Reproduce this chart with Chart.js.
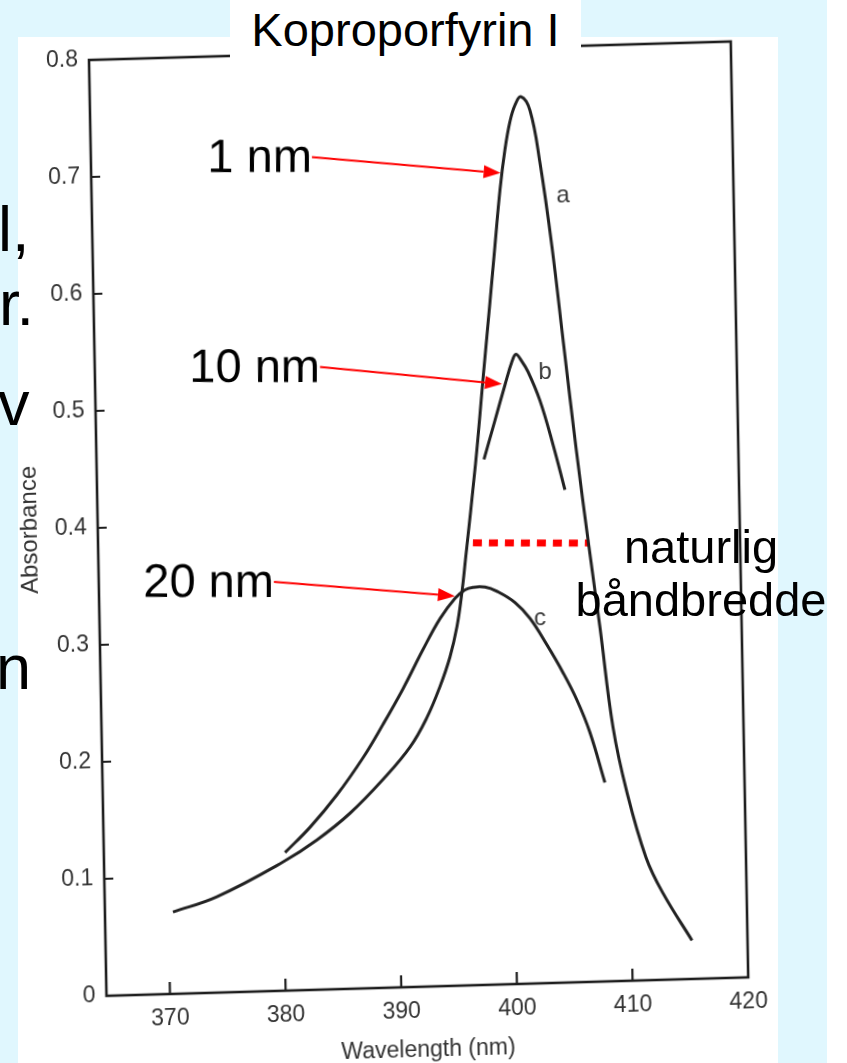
<!DOCTYPE html>
<html>
<head>
<meta charset="utf-8">
<script src="https://cdn.jsdelivr.net/npm/chart.js@4/dist/chart.umd.min.js"></script>
<style>
html,body{margin:0;padding:0;width:847px;height:1063px;overflow:hidden;background:#E0F7FE;font-family:"Liberation Sans",Arial,sans-serif;}
#panel{position:absolute;left:18px;top:37px;width:760px;height:1026px;background:#fff;}
#strip{position:absolute;left:827px;top:0;width:20px;height:1063px;background:#fff;}
#wrap{position:absolute;left:0;top:0;width:847px;height:1090px;transform-origin:0 0;transform:matrix(0.99959,-0.02879,0.018674,0.99983,-1.08,2.57);}
#titlebox{position:absolute;left:230px;top:0;width:351px;height:62px;background:#fff;}
.t{position:absolute;color:#000;white-space:nowrap;line-height:1;}
#title{left:230px;width:351px;text-align:center;top:6px;font-size:47px;}
.side{font-size:63px;}
.nat{left:560px;width:282px;text-align:center;font-size:47px;}
</style>
</head>
<body>
<div id="panel"></div>
<div id="strip"></div>
<div id="wrap"><canvas id="c" width="847" height="1090"></canvas></div>
<div id="titlebox"></div>
<div class="t" id="title">Koproporfyrin I</div>
<div class="t side" style="left:-2px;top:198px;">l,</div>
<div class="t side" style="left:-1px;top:272px;">r.</div>
<div class="t side" style="left:-2px;top:372px;">v</div>
<div class="t side" style="left:-4px;top:636px;">n</div>
<div class="t nat" style="top:523px;">naturlig</div>
<div class="t nat" style="top:576px;">båndbredde</div>
<script>
// ---- data (wavelength nm / absorbance) ----
const aWl  = [370.39,374.22,379.98,382.95,385.85,388.75,391.14,392.66,393.83,394.74,395.40,395.88,396.24,397.27,398.04,398.79,399.28,399.82,400.31,400.79,401.25,401.78,402.54,403.32,404.22,405.09,405.97,406.93,407.75,408.72,409.82,411.36,412.77,415.20];
const aAbs = [0.070,0.082,0.110,0.128,0.150,0.178,0.205,0.230,0.256,0.281,0.307,0.336,0.364,0.446,0.517,0.585,0.630,0.679,0.713,0.737,0.751,0.758,0.746,0.701,0.629,0.543,0.457,0.372,0.303,0.217,0.161,0.105,0.074,0.033];
const bWl  = [398.00,399.01,399.93,400.58,400.93,401.36,401.94,402.93,403.99,404.95];
const bAbs = [0.449,0.482,0.512,0.532,0.538,0.533,0.523,0.498,0.460,0.421];
const cWl  = [380.17,382.37,384.75,387.06,388.84,390.63,392.42,393.94,395.27,396.15,396.84,397.88,398.91,400.45,401.72,403.14,404.48,405.65,406.72,407.93];
const cAbs = [0.118,0.139,0.166,0.197,0.225,0.255,0.288,0.314,0.331,0.338,0.340,0.340,0.336,0.326,0.312,0.289,0.265,0.241,0.213,0.170];
const bandWl  = [396.91,406.95];
const bandAbs = [0.378,0.375];
const xTicks = [370,380,390,400,410,420];
const yTicks = [0,0.1,0.2,0.3,0.4,0.5,0.6,0.7,0.8];
const curveLabels = [{t:'a',x:405.25,y:0.672},{t:'b',x:403.41,y:0.522},{t:'c',x:402.58,y:0.312}];
const arrows = [
  {t:'1 nm',  sx:383.62, sy:0.7116, ex:399.90, ey:0.6933},
  {t:'10 nm', sx:383.98, sy:0.5320, ex:399.68, ey:0.5130},
  {t:'20 nm', sx:379.65, sy:0.3495, ex:395.27, ey:0.3330}
];

const FONT = "'Liberation Sans', Arial, Helvetica, sans-serif";
const SK = {a:0.99959, b:-0.02879, c:0.018674, d:0.99983, e:-1.08, f:2.57};
const det = SK.a*SK.d - SK.b*SK.c;
const INV = {a:SK.d/det, b:-SK.b/det, c:-SK.c/det, d:SK.a/det};
INV.e = -(INV.a*SK.e + INV.c*SK.f); INV.f = -(INV.b*SK.e + INV.d*SK.f);
function toScreen(px,py){ return [SK.a*px + SK.c*py + SK.e, SK.b*px + SK.d*py + SK.f]; }
const pts = (xs,ys)=>xs.map((x,i)=>({x:x,y:ys[i]}));

const framePlugin = {
  id:'frame',
  beforeDatasetsDraw(chart){
    const ctx = chart.ctx, {left,right,top,bottom} = chart.chartArea;
    const xs = chart.scales.x, ys = chart.scales.y;
    ctx.save();
    ctx.strokeStyle = '#1e1e1e'; ctx.lineWidth = 2.6;
    ctx.strokeRect(left,top,right-left,bottom-top);
    ctx.beginPath();
    xTicks.forEach(v=>{ if(v>=420) return; const x = xs.getPixelForValue(v); ctx.moveTo(x,bottom); ctx.lineTo(x,bottom-12); });
    yTicks.forEach(v=>{ if(v<=0||v>=0.8) return; const y = ys.getPixelForValue(v); ctx.moveTo(left,y); ctx.lineTo(left+9,y); });
    ctx.lineWidth = 2.2; ctx.stroke();
    ctx.restore();
  },
  afterDraw(chart){
    const ctx = chart.ctx, xs = chart.scales.x, ys = chart.scales.y;
    ctx.save();
    ctx.fillStyle = '#3a3a3a'; ctx.font = '24px ' + FONT; ctx.textAlign='center'; ctx.textBaseline='middle';
    curveLabels.forEach(l=>ctx.fillText(l.t, xs.getPixelForValue(l.x), ys.getPixelForValue(l.y)));
    ctx.restore();
    // annotation overlay drawn in page (unskewed) coordinates
    ctx.save();
    ctx.transform(INV.a, INV.b, INV.c, INV.d, INV.e, INV.f);
    arrows.forEach(ar=>{
      const s = toScreen(xs.getPixelForValue(ar.sx), ys.getPixelForValue(ar.sy));
      const e = toScreen(xs.getPixelForValue(ar.ex), ys.getPixelForValue(ar.ey));
      const ang = Math.atan2(e[1]-s[1], e[0]-s[0]);
      const hl = 17, hw = 6.5;
      const bx = e[0]-hl*Math.cos(ang), by = e[1]-hl*Math.sin(ang);
      ctx.strokeStyle = '#FF0000'; ctx.fillStyle = '#FF0000'; ctx.lineWidth = 2;
      ctx.beginPath(); ctx.moveTo(s[0],s[1]); ctx.lineTo(bx,by); ctx.stroke();
      ctx.beginPath(); ctx.moveTo(e[0],e[1]);
      ctx.lineTo(bx + hw*Math.sin(ang), by - hw*Math.cos(ang));
      ctx.lineTo(bx - hw*Math.sin(ang), by + hw*Math.cos(ang));
      ctx.closePath(); ctx.fill();
      ctx.fillStyle = '#000'; ctx.font = '47px ' + FONT; ctx.textAlign='right'; ctx.textBaseline='alphabetic';
      ctx.fillText(ar.t, s[0], s[1]+15);
    });
    ctx.restore();
  }
};

const lineDs = (label,data)=>({label, data, borderColor:'#222', borderWidth:3, pointRadius:0, fill:false, tension:0.4, cubicInterpolationMode:'default'});

new Chart(document.getElementById('c'), {
  type:'line',
  data:{datasets:[
    lineDs('a (1 nm)', pts(aWl,aAbs)),
    lineDs('b (10 nm)', pts(bWl,bAbs)),
    lineDs('c (20 nm)', pts(cWl,cAbs)),
    {label:'naturlig båndbredde', data:pts(bandWl,bandAbs), borderColor:'#FF0000', borderWidth:7, borderDash:[9,7], borderCapStyle:'butt', pointRadius:0, fill:false, tension:0}
  ]},
  options:{
    responsive:false, devicePixelRatio:1, animation:false,
    layout:{padding:{left:0, top:60, right:116, bottom:0}},
    plugins:{legend:{display:false}, title:{display:false}, tooltip:{enabled:false}},
    scales:{
      x:{type:'linear', min:364.51, max:420,
        afterBuildTicks:(ax)=>{ ax.ticks = xTicks.map(v=>({value:v})); },
        afterFit:(ax)=>{ ax.height = 94; },
        grid:{display:false, drawTicks:false}, border:{display:false},
        ticks:{color:'#333', font:{family:FONT, size:23}, padding:11, maxRotation:0, autoSkip:false, callback:(v)=>String(v)},
        title:{display:true, text:'Wavelength (nm)', color:'#333', font:{family:FONT, size:23}, padding:{top:0, bottom:17}}
      },
      y:{type:'linear', min:0, max:0.8,
        afterBuildTicks:(ax)=>{ ax.ticks = yTicks.map(v=>({value:v})); },
        afterFit:(ax)=>{ ax.width = 89; },
        grid:{display:false, drawTicks:false}, border:{display:false},
        ticks:{color:'#333', font:{family:FONT, size:23}, padding:11, autoSkip:false, callback:(v)=> v===0 ? '0' : Number(v).toFixed(1)},
        title:{display:true, text:'Absorbance', color:'#333', font:{family:FONT, size:24}, padding:{top:7, bottom:0}}
      }
    }
  },
  plugins:[framePlugin]
});
</script>
</body>
</html>
